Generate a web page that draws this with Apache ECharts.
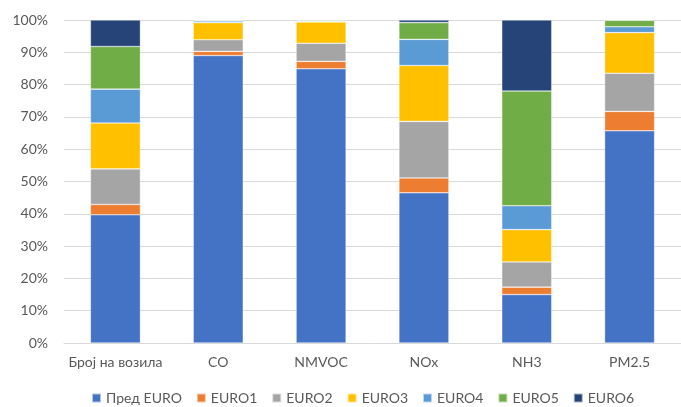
<!DOCTYPE html>
<html>
<head>
<meta charset="utf-8">
<script src="https://cdn.jsdelivr.net/npm/echarts@6/dist/echarts.min.js"></script>
<style>
  html, body { margin: 0; padding: 0; background: #fff; }
  #chart { width: 681px; height: 407px; }
</style>
</head>
<body>
<div id="chart"></div>
<script>
// Share of each emission standard per category (percent, stacks to 100)
const categories = ['Броj на возила', 'CO', 'NMVOC', 'NOx', 'NH3', 'PM2.5'];
const seriesNames = ['Пред EURO', 'EURO1', 'EURO2', 'EURO3', 'EURO4', 'EURO5', 'EURO6'];
const preEuro = [39.7, 89.0, 84.9, 46.5, 15.0, 65.7];
const euro1   = [3.2, 1.3, 2.3, 4.6, 2.3, 6.0];
const euro2   = [11.0, 3.6, 5.6, 17.5, 7.8, 11.8];
const euro3   = [14.2, 5.3, 6.6, 17.3, 10.0, 12.6];
const euro4   = [10.5, 0.5, 0.2, 8.1, 7.4, 1.8];
const euro5   = [13.2, 0.2, 0.3, 5.2, 35.5, 2.0];
const euro6   = [8.2, 0.1, 0.1, 0.8, 22.0, 0.1];

const values = [preEuro, euro1, euro2, euro3, euro4, euro5, euro6];
const colors = ['#4472C4', '#ED7D31', '#A5A5A5', '#FFC000', '#5B9BD5', '#70AD47', '#264478'];
const font = 'Lato, "Open Sans", sans-serif';
const textColor = '#595959';

const chart = echarts.init(document.getElementById('chart'), null, { renderer: 'canvas' });
chart.setOption({
  animation: false,
  color: colors,
  grid: { left: 64, top: 20, width: 628, height: 323, containLabel: false },
  legend: {
    top: 386,
    left: 86,
    icon: 'rect',
    itemWidth: 9,
    itemHeight: 9,
    itemGap: 14,
    textStyle: { color: textColor, fontSize: 14, fontFamily: font },
    data: seriesNames
  },
  xAxis: {
    type: 'category',
    data: categories,
    axisLine: { lineStyle: { color: '#d9d9d9', width: 1 } },
    axisTick: { show: false },
    axisLabel: { color: textColor, fontSize: 14, fontFamily: font, margin: 12, interval: 0 }
  },
  yAxis: {
    type: 'value',
    min: 0,
    max: 100,
    interval: 10,
    axisLine: { show: false },
    axisTick: { show: false },
    splitLine: { lineStyle: { color: '#d9d9d9', width: 1 } },
    axisLabel: { color: textColor, fontSize: 14, fontFamily: font, margin: 16, formatter: '{value}%' }
  },
  series: seriesNames.map((name, i) => ({
    name,
    type: 'bar',
    stack: 'total',
    barWidth: 50,
    data: values[i],
    itemStyle: { borderColor: 'rgba(255,255,255,0.6)', borderWidth: 0.6 }
  }))
});
</script>
</body>
</html>
